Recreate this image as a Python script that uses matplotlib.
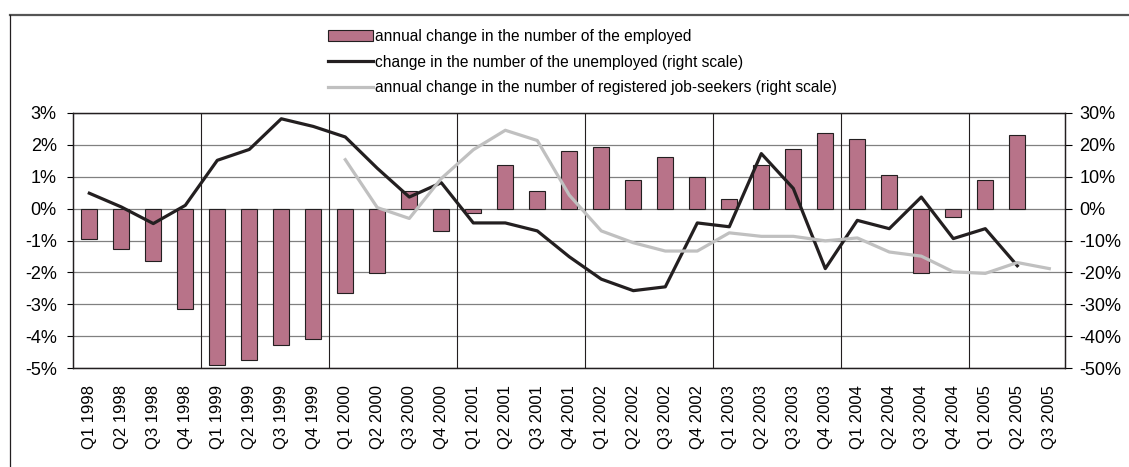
import numpy as np
import matplotlib.pyplot as plt
from matplotlib.lines import Line2D

plt.rcParams['font.family'] = ['Liberation Sans', 'DejaVu Sans']

# Quarters Q1 1998 .. Q3 2005
quarters = [f"Q{q} {y}" for y in range(1998, 2006) for q in range(1, 5)][:31]

# annual change in the number of the employed (left scale, %)
employed = [-0.94, -1.26, -1.64, -3.14, -4.89, -4.75, -4.26, -4.07,
            -2.64, -2.01, 0.55, -0.70, -0.14, 1.37, 0.56, 1.81,
            1.94, 0.88, 1.62, 1.00, 0.31, 1.37, 1.87, 2.37,
            2.19, 1.06, -2.01, -0.26, 0.88, 2.31, np.nan]

# change in the number of the unemployed (right scale, %)
unemployed = [4.8, 0.5, -4.7, 1.0, 15.1, 18.5, 28.1, 25.7,
              22.4, 12.6, 3.6, 8.1, -4.5, -4.5, -7.0, -15.1,
              -22.1, -25.7, -24.5, -4.5, -5.7, 17.2, 6.3, -18.8,
              -3.7, -6.3, 3.6, -9.4, -6.3, -17.9, np.nan]

# annual change in the number of registered job-seekers (right scale, %)
jobseekers = [np.nan] * 8 + [15.3, 0.3, -3.1, 9.4, 18.4, 24.5, 21.3, 4.2,
                             -7.0, -10.7, -13.3, -13.3, -7.6, -8.7, -8.7, -10.1,
                             -9.2, -13.6, -14.9, -19.8, -20.3, -16.9, -18.8]

x = np.arange(len(quarters))

fig = plt.figure(figsize=(11.29, 4.67), dpi=100)
ax = fig.add_axes([73.3 / 1129, 1 - 368.3 / 467, 992 / 1129, 255.6 / 467])
ax2 = ax.twinx()

bars = ax.bar(x, employed, width=0.5, color='#B87389', edgecolor='#231F20',
              linewidth=0.8, zorder=3,
              label='annual change in the number of the employed')

ax.set_xlim(-0.5, len(quarters) - 0.5)
ax.set_ylim(-5, 3)
ax.set_yticks(np.arange(-5, 4, 1))
ax.set_yticklabels([f"{v}%" for v in range(-5, 4)])
ax.yaxis.grid(True, color='#808080', linewidth=0.9)
ax.set_axisbelow(True)
for b in range(4, len(quarters), 4):
    ax.axvline(b - 0.5, color='#231F20', linewidth=0.8, zorder=1)

ax.set_xticks(x)
ax.set_xticklabels(quarters, rotation=90)
ax.tick_params(axis='x', length=0, pad=12, labelsize=12)
ax.tick_params(axis='y', length=4, width=0.8, pad=8, labelsize=13)

l1, = ax2.plot(x, unemployed, color='#231F20', linewidth=2.3,
               label='change in the number of the unemployed (right scale)')
l2, = ax2.plot(x, jobseekers, color='#C0C0C0', linewidth=2.3,
               label='annual change in the number of registered job-seekers (right scale)')
ax2.set_ylim(-50, 30)
ax2.set_yticks(np.arange(-50, 31, 10))
ax2.set_yticklabels([f"{v}%" for v in range(-50, 31, 10)])
ax2.tick_params(axis='y', length=5, width=0.8, pad=5, labelsize=13)

for a in (ax, ax2):
    for s in a.spines.values():
        s.set_color('#231F20')
        s.set_linewidth(0.9)

fig.legend(handles=[bars, l1, l2], loc='upper left',
           bbox_to_anchor=(328 / 1129, 1 - 29 / 467), frameon=False,
           fontsize=11.2, handlelength=2.9, handletextpad=0.1,
           labelspacing=0.68, borderpad=0, borderaxespad=0)

# outer frame lines
fig.add_artist(Line2D([9.5 / 1129, 1], [1 - 15 / 467, 1 - 15 / 467],
                      color='#555555', linewidth=1.6))
fig.add_artist(Line2D([9.5 / 1129, 9.5 / 1129], [0, 1 - 15 / 467],
                      color='#231F20', linewidth=0.9))

fig.savefig('out.png', dpi=100)
